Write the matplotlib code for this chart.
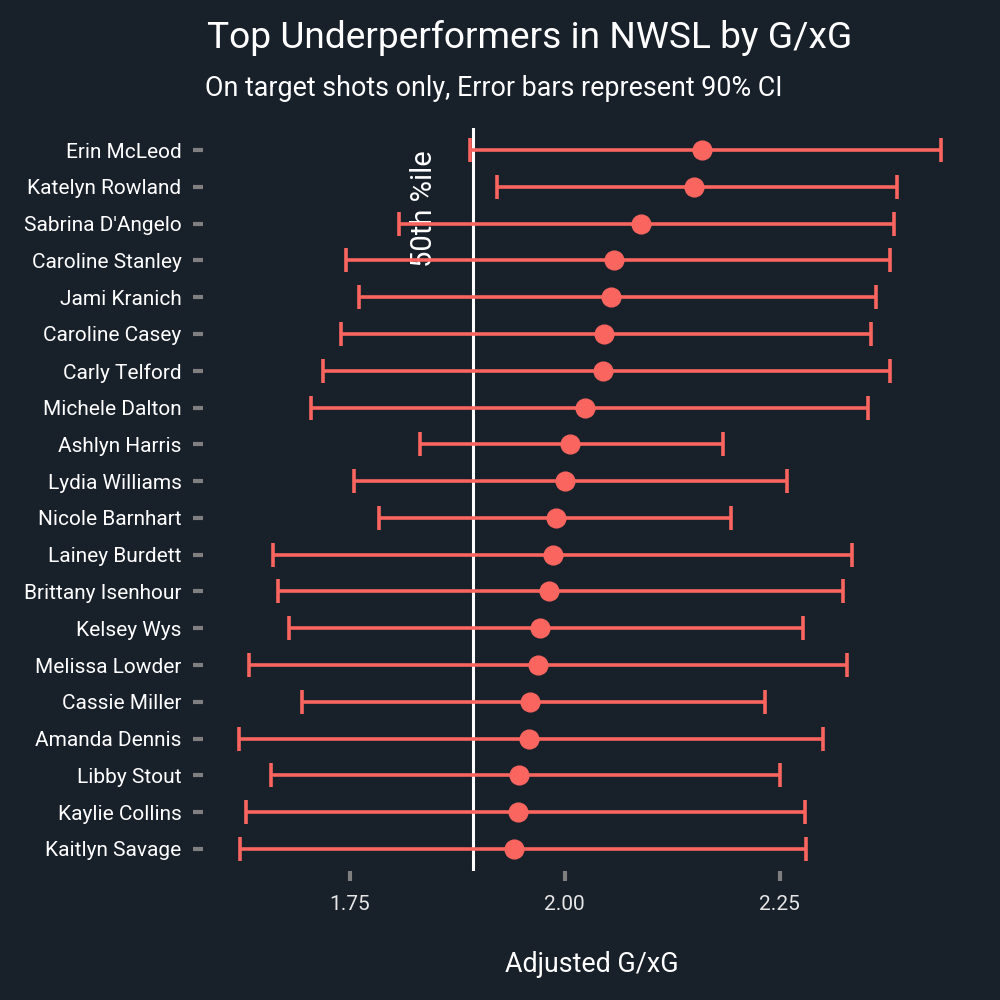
import matplotlib
matplotlib.use('Agg')
import matplotlib.pyplot as plt
import numpy as np

players = ['Erin McLeod', 'Katelyn Rowland', "Sabrina D'Angelo", 'Caroline Stanley',
           'Jami Kranich', 'Caroline Casey', 'Carly Telford', 'Michele Dalton',
           'Ashlyn Harris', 'Lydia Williams', 'Nicole Barnhart', 'Lainey Burdett',
           'Brittany Isenhour', 'Kelsey Wys', 'Melissa Lowder', 'Cassie Miller',
           'Amanda Dennis', 'Libby Stout', 'Kaylie Collins', 'Kaitlyn Savage']
estimate = [2.160, 2.150, 2.089, 2.057, 2.054, 2.046, 2.045, 2.024, 2.006, 2.000,
            1.990, 1.987, 1.982, 1.971, 1.969, 1.960, 1.959, 1.947, 1.946, 1.941]
lower = [1.890, 1.921, 1.808, 1.746, 1.761, 1.740, 1.719, 1.705, 1.832, 1.755,
         1.784, 1.661, 1.667, 1.680, 1.633, 1.695, 1.621, 1.658, 1.629, 1.623]
upper = [2.438, 2.387, 2.383, 2.378, 2.362, 2.356, 2.378, 2.353, 2.184, 2.259,
         2.193, 2.334, 2.324, 2.277, 2.328, 2.233, 2.300, 2.251, 2.279, 2.281]
median_line = 1.8935
xticks = [1.75, 2.00, 2.25]

bg = '#18202a'
red = '#fa6560'
plt.rcParams['font.family'] = ['Roboto', 'DejaVu Sans']

fig = plt.figure(figsize=(10, 10), dpi=100, facecolor=bg)
ax = fig.add_axes([0.203, 0.129, 0.778, 0.743], facecolor=bg)

y = np.arange(len(players))
est = np.array(estimate)
err = [est - np.array(lower), np.array(upper) - est]

ax.axvline(median_line, color='white', lw=2.2, zorder=1)
ax.errorbar(est, y, xerr=err, fmt='o', color=red, ecolor=red, elinewidth=2.6,
            capsize=8.6, capthick=2.6, markersize=13.5, zorder=3)

ax.text(1.836, 1.6, '50th %ile', rotation=90, color='white', fontsize=21,
        ha='center', va='center', zorder=2)

ax.set_yticks(y)
ax.set_yticklabels(players)
ax.set_ylim(len(players) - 0.4, -0.6)
ax.set_xlim(1.5795, 2.4842)
ax.set_xticks(xticks)
ax.set_xticklabels(['%.2f' % v for v in xticks])

for s in ax.spines.values():
    s.set_visible(False)
ax.tick_params(axis='both', colors='#7f7f7f', length=7, width=3)
ax.tick_params(axis='y', pad=8.5, labelsize=15)
ax.tick_params(axis='x', pad=10, labelsize=15)
for lab in ax.get_yticklabels():
    lab.set_color('white')
for lab in ax.get_xticklabels():
    lab.set_color('#e6e6e6')

ax.set_xlabel('Adjusted G/xG', color='white', fontsize=19.4, labelpad=27)

fig.text(0.207, 0.962, 'Top Underperformers in NWSL by G/xG', color='white',
         fontsize=26.7, ha='left', va='center')
fig.text(0.205, 0.911, 'On target shots only, Error bars represent 90% CI', color='white',
         fontsize=19.4, ha='left', va='center')

fig.savefig('out.png', dpi=100, facecolor=bg)
